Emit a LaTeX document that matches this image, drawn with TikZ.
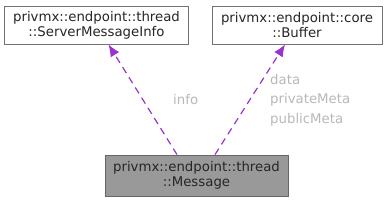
\documentclass[tikz,border=0pt]{standalone}
\usepackage{fontspec}
\setmainfont{DejaVu Sans}
\usetikzlibrary{arrows.meta,calc}
\definecolor{edgepurple}{HTML}{9A32CD}
\definecolor{lblgray}{HTML}{B8B8B8}
\tikzset{
  classbox/.style={draw=black!55, line width=0.9pt, fill=white, align=center, inner sep=0pt,
    font=\fontsize{13.3}{15}\selectfont, text=black!85},
  mainbox/.style={classbox, draw=black!60, fill=black!40},
  rel/.style={edgepurple, line width=1.2pt, dash pattern=on 7pt off 5pt,
    -{Latex[length=12pt,width=10pt]}},
  lbl/.style={text=lblgray, font=\fontsize{13.3}{15}\selectfont, inner sep=0pt, anchor=west}
}
\begin{document}
\begin{tikzpicture}[x=1pt,y=-1pt]
\useasboundingbox (0,0) rectangle (387,201);
\node[classbox, minimum width=184pt, minimum height=38pt] (smi) at (96.5,25)
  {privmx::endpoint::thread\\::ServerMessageInfo};
\node[classbox, minimum width=170pt, minimum height=38pt] (buf) at (297,25)
  {privmx::endpoint::core\\::Buffer};
\node[mainbox, minimum width=183pt, minimum height=41pt] (msg) at (196.5,175.5)
  {privmx::endpoint::thread\\::Message};
\draw[rel] ([xshift=-19.5pt]msg.north) -- ([xshift=12pt]smi.south);
\draw[rel] ([xshift=18.5pt]msg.north) -- ([xshift=-12pt]buf.south);
\node[lbl] (l1) at (173,100) {info};
\node[lbl] (l2) at (270,80) {data};
\node[lbl] (l3) at (270,100) {privateMeta};
\node[lbl] (l4) at (270,120) {publicMeta};
\end{tikzpicture}
\end{document}
